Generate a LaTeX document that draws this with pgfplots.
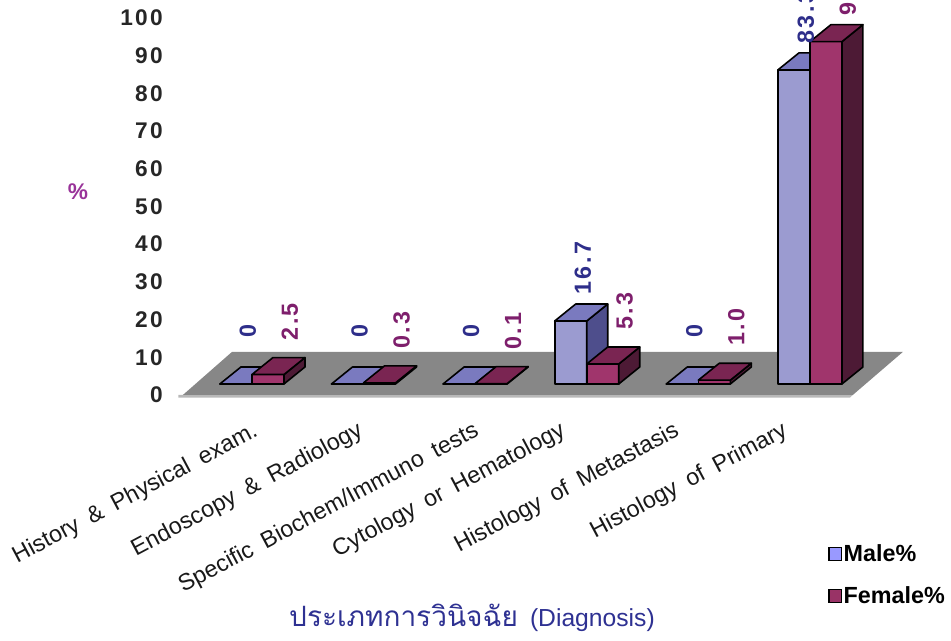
\documentclass[border=0pt]{standalone}
\usepackage{pgfplots}
\usepackage{pgfplotstable}
\pgfplotsset{compat=1.18}
\usepackage{fontspec}
\setmainfont{Liberation Sans}
\newfontfamily\tickfont{Liberation Sans}[LetterSpace=10]
\newfontfamily\xfont{Liberation Sans}[WordSpace=1.8]
\newfontfamily\thaifont[Script=Thai]{Loma}
\definecolor{mfront}{HTML}{9B9BD0}
\definecolor{mtop}{HTML}{7A7ABF}
\definecolor{mside}{HTML}{4E4E8C}
\definecolor{ffront}{HTML}{A0356C}
\definecolor{ftop}{HTML}{7A2552}
\definecolor{fside}{HTML}{4D1A35}
\definecolor{floorgray}{HTML}{878787}
\definecolor{floorlight}{HTML}{B8B8B8}
\definecolor{mlabc}{HTML}{2E2E8A}
\definecolor{flabc}{HTML}{7E1F6C}
\definecolor{pctc}{HTML}{993399}
\definecolor{titlec}{HTML}{2E3192}
\definecolor{legm}{HTML}{9999FF}
\definecolor{legf}{HTML}{993366}
\pgfplotstableread{
x male female
0 0 2.5
1 0 0.3
2 0 0.1
3 16.7 5.3
4 0 1.0
5 83.3 90.8
}\data
\begin{document}
\begin{tikzpicture}
\begin{axis}[
  at={(126.2pt,184.3pt)}, anchor=south west,
  scale only axis, width=552.4pt, height=296.6pt,
  xmin=-0.75, xmax=5.85, ymin=-3, ymax=101.9,
  clip=false,
  axis line style={draw=none}, tick style={draw=none},
  ytick={0,10,...,100},
  yticklabel style={font=\tickfont\bfseries\fontsize{17}{17}\selectfont, color=black!85, anchor=east, inner sep=0pt, xshift=-4pt, yshift=-8.25pt},
  /pgf/number format/assume math mode=true,
  xtick={-0.125,0.816,1.855,2.63,3.65,4.62},
  xticklabels={History \& Physical exam., Endoscopy \& Radiology, Specific Biochem/Immuno tests, Cytology or Hematology, Histology of Metastasis, Histology of Primary},
  xticklabel style={font=\xfont\fontsize{17.5}{17.5}\selectfont, color=black!90, rotate=28, anchor=north east, inner sep=0pt, yshift=-21pt},
  legend style={at={(0.8956,-0.374)}, anchor=north west, draw=none, fill=none,
    font=\bfseries\fontsize{17.5}{17.5}\selectfont, row sep=15pt, inner sep=0pt,
    nodes={inner sep=1pt}},
  legend cell align=left,
  legend image code/.code={\draw[#1, line width=1pt] (0pt,-4.8pt) rectangle (9.6pt,4.8pt);},
]
\addlegendimage{draw=black, fill=legm}
\addlegendimage{draw=black, fill=legf}
\legend{Male\%, Female\%}
% floor
\addplot[fill=floorlight, draw=none] coordinates {(-0.66,-2.9) (5.385,-2.9) (5.36,-3.6) (-0.66,-3.6)} -- cycle;
\addplot[fill=floorgray, draw=none] coordinates {(-0.618,-2.9) (5.385,-2.9) (5.833,8.5) (-0.179,8.5)} -- cycle;
% male bars
\pgfplotsforeachungrouped \i in {0,...,5}{%
  \pgfplotstablegetelem{\i}{male}\of\data
  \pgfmathsetmacro\v{\pgfplotsretval}%
  \pgfmathsetmacro\xa{\i-0.287}%
  \pgfmathsetmacro\xb{\i}%
  \pgfmathsetmacro\xc{\xa+0.188}%
  \pgfmathsetmacro\xd{\xb+0.188}%
  \pgfmathsetmacro\vt{\v+4.5}%
  \edef\temp{%
    \noexpand\addplot[draw=black, line width=1.2pt, line join=round, fill=mfront] coordinates {(\xa,0) (\xb,0) (\xb,\v) (\xa,\v)} -- cycle;
    \noexpand\addplot[draw=black, line width=1.2pt, line join=round, fill=mside] coordinates {(\xb,0) (\xd,4.5) (\xd,\vt) (\xb,\v)} -- cycle;
    \noexpand\addplot[draw=black, line width=1.2pt, line join=round, fill=mtop] coordinates {(\xa,\v) (\xb,\v) (\xd,\vt) (\xc,\vt)} -- cycle;
  }\temp
}
% female bars
\pgfplotsforeachungrouped \i in {0,...,5}{%
  \pgfplotstablegetelem{\i}{female}\of\data
  \pgfmathsetmacro\v{\pgfplotsretval}%
  \pgfmathsetmacro\xa{\i}%
  \pgfmathsetmacro\xb{\i+0.287}%
  \pgfmathsetmacro\xc{\xa+0.188}%
  \pgfmathsetmacro\xd{\xb+0.188}%
  \pgfmathsetmacro\vt{\v+4.5}%
  \edef\temp{%
    \noexpand\addplot[draw=black, line width=1.2pt, line join=round, fill=ffront] coordinates {(\xa,0) (\xb,0) (\xb,\v) (\xa,\v)} -- cycle;
    \noexpand\addplot[draw=black, line width=1.2pt, line join=round, fill=fside] coordinates {(\xb,0) (\xd,4.5) (\xd,\vt) (\xb,\v)} -- cycle;
    \noexpand\addplot[draw=black, line width=1.2pt, line join=round, fill=ftop] coordinates {(\xa,\v) (\xb,\v) (\xd,\vt) (\xc,\vt)} -- cycle;
  }\temp
}
% value labels
\addplot[draw=none, mark=none, nodes near coords, point meta=explicit symbolic,
  every node near coord/.append style={rotate=90, anchor=center, inner sep=0pt,
    font=\tickfont\bfseries\fontsize{17.5}{17.5}\selectfont, color=mlabc}]
  table[x expr=\thisrow{x}-0.036, y expr=\thisrow{male}+14, meta=male] {\data};
\addplot[draw=none, mark=none, nodes near coords, point meta=explicit symbolic,
  every node near coord/.append style={rotate=90, anchor=center, inner sep=0pt,
    font=\tickfont\bfseries\fontsize{17.5}{17.5}\selectfont, color=flabc}]
  table[x expr=\thisrow{x}+0.34, y expr=\thisrow{female}+14, meta=female] {\data};
\end{axis}
\node[font=\bfseries\fontsize{17}{17}\selectfont, color=pctc] at (58.5pt,336.75pt) {\%};
\node[anchor=base, color=titlec, inner sep=0pt] at (354pt,10.5pt) {{\thaifont\fontsize{21}{21}\selectfont ประเภทการวินิจฉัย}\hspace{9pt}{\fontsize{18.5}{18.5}\selectfont (Diagnosis)}};
\pgfresetboundingbox
\path[use as bounding box] (0,0) rectangle (713.25pt,480.75pt);
\end{tikzpicture}
\end{document}
